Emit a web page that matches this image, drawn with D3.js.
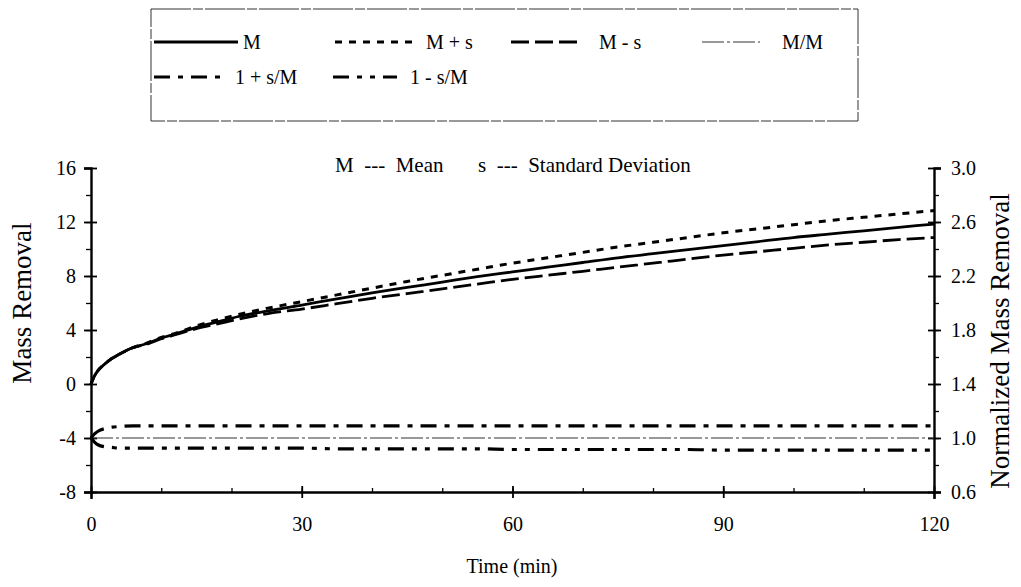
<!DOCTYPE html>
<html><head><meta charset="utf-8">
<script src="https://cdn.jsdelivr.net/npm/d3@7"></script>
<style>body{margin:0;background:#fff}svg{display:block}text{font-family:"Liberation Serif","Times New Roman",serif;fill:#000}</style>
</head><body><svg id="c" width="1021" height="587"></svg>
<script>
const time   = [0,0.5,1,2,3,4,6,8,10,12,15,18,21,25,30,35,40,45,50,55,60,65,70,75,80,85,90,95,100,105,110,115,120];
const mean   = [0,0.6,1.0,1.5,1.9,2.2,2.7,3.0,3.4,3.7,4.2,4.6,5.0,5.4,5.85,6.3,6.75,7.15,7.55,7.95,8.3,8.65,9.0,9.35,9.65,9.95,10.25,10.55,10.85,11.1,11.35,11.6,11.85];
const meanPlus  = [0,0.6,1.0,1.5,1.9,2.2,2.7,3.05,3.45,3.75,4.3,4.75,5.15,5.6,6.1,6.6,7.1,7.6,8.05,8.5,8.95,9.35,9.75,10.15,10.5,10.85,11.2,11.5,11.8,12.1,12.35,12.6,12.85];
const meanMinus = [0,0.6,1.0,1.5,1.9,2.2,2.7,2.95,3.35,3.65,4.1,4.45,4.8,5.2,5.55,5.95,6.35,6.7,7.05,7.4,7.75,8.05,8.35,8.65,8.95,9.25,9.55,9.8,10.05,10.3,10.5,10.7,10.85];
const normMean  = time.map(() => 1.0);
const normPlus  = [1.0,1.03,1.05,1.07,1.08,1.085,1.09,1.09,1.09,1.09,1.09,1.09,1.09,1.09,1.09,1.09,1.09,1.09,1.09,1.09,1.09,1.09,1.09,1.09,1.09,1.09,1.09,1.09,1.09,1.09,1.09,1.09,1.09];
const normMinus = [1.0,0.97,0.95,0.935,0.93,0.925,0.925,0.925,0.925,0.925,0.925,0.925,0.925,0.925,0.925,0.92,0.92,0.92,0.92,0.92,0.915,0.915,0.915,0.915,0.915,0.915,0.91,0.91,0.91,0.91,0.91,0.91,0.91];
const xTicks = [0,30,60,90,120];
const yLeftTicks = [-8,-4,0,4,8,12,16];
const yRightTicks = [0.6,1.0,1.4,1.8,2.2,2.6,3.0];
const legendLabels = ["M","M + s","M - s","M/M","1 + s/M","1 - s/M"];

const svg = d3.select("#c");
const x = d3.scaleLinear().domain([0,120]).range([91,934]);
const yL = d3.scaleLinear().domain([-8,16]).range([492,168]);
const yR = d3.scaleLinear().domain([0.6,3.0]).range([492,168]);

const styles = [
  {dash:null, w:2.8, c:"#000"},
  {dash:"7,7", w:3, c:"#000"},
  {dash:"18,6", w:2.8, c:"#000"},
  {dash:"22,3,3,3", w:1.2, c:"#333"},
  {dash:"16,8,5,8", w:3.2, c:"#000"},
  {dash:"16,8,5,8,5,8", w:3.2, c:"#000"}
];
const series = [
  {v:mean, y:yL}, {v:meanPlus, y:yL}, {v:meanMinus, y:yL},
  {v:normMean, y:yR}, {v:normPlus, y:yR}, {v:normMinus, y:yR}
];

function styleAxis(g){ g.select(".domain").attr("stroke","#000").attr("stroke-width",2.4); g.selectAll(".tick line").attr("stroke","#000").attr("stroke-width",1.8); g.selectAll("text").style("font-size","20px").style("font-family",'"Liberation Serif",serif'); }

// minor ticks
const gxm = svg.append("g").attr("transform","translate(0,492)").call(d3.axisBottom(x).tickValues(d3.range(0,121,10)).tickSize(-4).tickFormat(""));
gxm.select(".domain").remove(); gxm.selectAll("line").attr("stroke","#000").attr("stroke-width",1.3);
const gylm = svg.append("g").attr("transform","translate(91,0)").call(d3.axisLeft(yL).tickValues(d3.range(-8,17,2)).tickSize(5).tickFormat(""));
gylm.select(".domain").remove(); gylm.selectAll("line").attr("stroke","#000").attr("stroke-width",1.3);
const gyrm = svg.append("g").attr("transform","translate(934,0)").call(d3.axisRight(yR).tickValues(d3.range(6,31,2).map(d=>d/10)).tickSize(5).tickFormat(""));
gyrm.select(".domain").remove(); gyrm.selectAll("line").attr("stroke","#000").attr("stroke-width",1.3);

const gx = svg.append("g").attr("transform","translate(0,492)").call(d3.axisBottom(x).tickValues(xTicks).tickFormat(d=>String(d)).tickSizeOuter(0).tickSize(7).tickPadding(18));
styleAxis(gx); gx.selectAll(".tick line").attr("y1",-6).attr("y2",6);
const gyl = svg.append("g").attr("transform","translate(91,0)").call(d3.axisLeft(yL).tickValues(yLeftTicks).tickFormat(d=>String(d)).tickSizeOuter(0).tickSize(7).tickPadding(8));
styleAxis(gyl); gyl.selectAll(".tick line").attr("x1",-7).attr("x2",6);
const gyr = svg.append("g").attr("transform","translate(934,0)").call(d3.axisRight(yR).tickValues(yRightTicks).tickFormat(d3.format(".1f")).tickSizeOuter(0).tickSize(7).tickPadding(10));
styleAxis(gyr); gyr.selectAll(".tick line").attr("x1",-6).attr("x2",7);

series.forEach((s,i)=>{
  const line = d3.line().x((d,j)=>x(time[j])).y(d=>s.y(d)).curve(d3.curveMonotoneX);
  const p = svg.append("path").datum(s.v).attr("d",line).attr("fill","none")
    .attr("stroke",styles[i].c).attr("stroke-width",styles[i].w).attr("stroke-linecap","butt");
  if(styles[i].dash) p.attr("stroke-dasharray",styles[i].dash);
});

// titles
svg.append("text").attr("x",512).attr("y",573).attr("text-anchor","middle").style("font-size","20px").text("Time (min)");
svg.append("text").attr("transform","translate(31,303) rotate(-90)").attr("text-anchor","middle").style("font-size","27px").text("Mass Removal");
svg.append("text").attr("transform","translate(1009,341) rotate(-90)").attr("text-anchor","middle").style("font-size","27px").text("Normalized Mass Removal");
svg.append("text").attr("x",335).attr("y",172).style("font-size","21px").attr("xml:space","preserve").text("M  ---  Mean");
svg.append("text").attr("x",478).attr("y",172).style("font-size","21px").attr("xml:space","preserve").text("s  ---  Standard Deviation");

// legend
svg.append("rect").attr("x",151).attr("y",9).attr("width",707).attr("height",112).attr("fill","none").attr("stroke","#333").attr("stroke-width",1).attr("stroke-dasharray","40,2,10,2");
const leg = [
  {x1:154,x2:238,tx:243,y:42},
  {x1:335,x2:415,tx:426,y:42},
  {x1:511,x2:583,tx:599,y:42},
  {x1:702,x2:760,tx:782,y:42},
  {x1:154,x2:226,tx:235,y:77},
  {x1:333,x2:397,tx:410,y:77}
];
leg.forEach((l,i)=>{
  const p = svg.append("line").attr("x1",l.x1).attr("x2",l.x2).attr("y1",l.y).attr("y2",l.y)
    .attr("stroke",styles[i].c).attr("stroke-width",styles[i].w);
  if(styles[i].dash) p.attr("stroke-dasharray",styles[i].dash);
  svg.append("text").attr("x",l.tx).attr("y",l.y+7).style("font-size","20px").text(legendLabels[i]);
});
</script></body></html>
